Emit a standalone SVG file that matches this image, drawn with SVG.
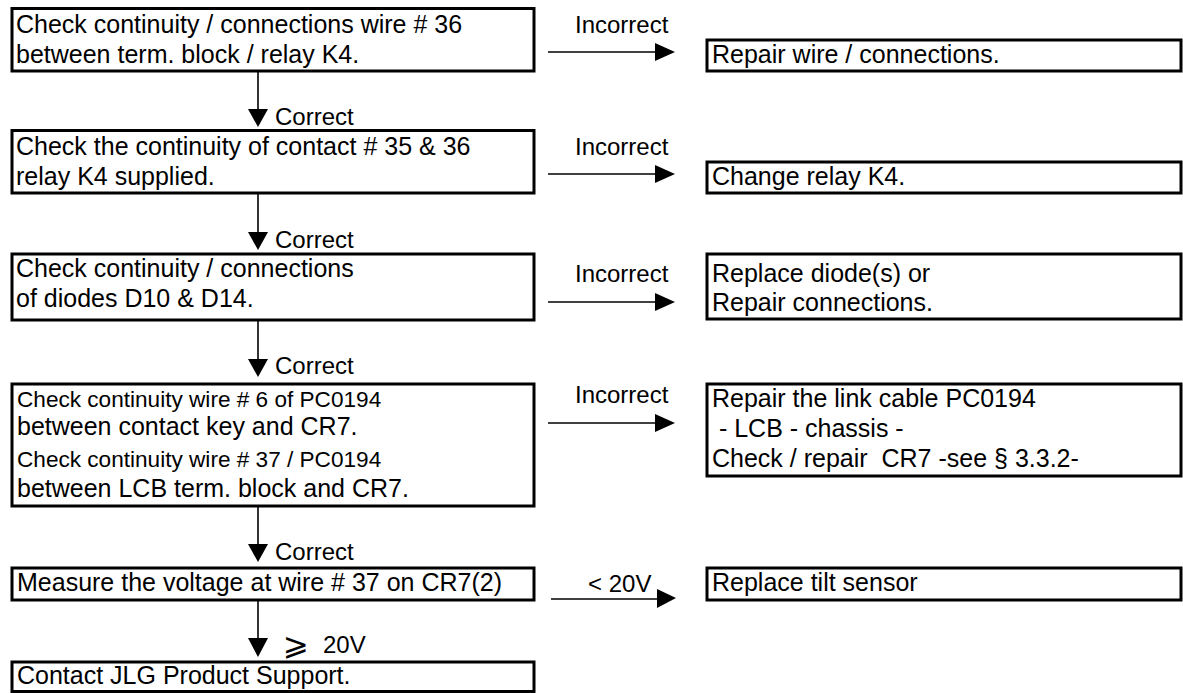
<svg xmlns="http://www.w3.org/2000/svg" width="1183" height="693" viewBox="0 0 1183 693">
  <defs>
    <style>
      .box { fill: #ffffff; stroke: #000000; stroke-width: 3; }
      .t { font-family: "Liberation Sans", Arial, sans-serif; font-size: 25px; fill: #000000; }
      .s { font-family: "Liberation Sans", Arial, sans-serif; font-size: 22.6px; fill: #000000; }
      .lbl { font-family: "Liberation Sans", Arial, sans-serif; font-size: 24px; fill: #000000; }
      .sym { font-family: "DejaVu Sans", sans-serif; font-size: 31px; fill: #000000; }
      .wire { stroke: #000000; stroke-width: 1.6; fill: none; }
      .head { fill: #000000; stroke: none; }
    </style>
  </defs>
  <rect width="1183" height="693" fill="#ffffff"/>

  <!-- connectors -->
  <g id="connectors">
    <!-- vertical "Correct" flow -->
    <line class="wire" x1="258" y1="71" x2="258" y2="112"/>
    <polygon class="head" points="248,109 268,109 258,127"/>
    <text class="lbl" x="275" y="125">Correct</text>

    <line class="wire" x1="258" y1="193" x2="258" y2="236"/>
    <polygon class="head" points="248,232 268,232 258,250"/>
    <text class="lbl" x="275" y="248">Correct</text>

    <line class="wire" x1="258" y1="320" x2="258" y2="362"/>
    <polygon class="head" points="248,359 268,359 258,377"/>
    <text class="lbl" x="275" y="374">Correct</text>

    <line class="wire" x1="258" y1="506" x2="258" y2="547"/>
    <polygon class="head" points="248,544 268,544 258,562"/>
    <text class="lbl" x="275" y="560">Correct</text>

    <line class="wire" x1="258" y1="600" x2="258" y2="641"/>
    <polygon class="head" points="248,638 268,638 258,657"/>
    <text class="sym" x="283" y="655">⩾</text>
    <text class="lbl" x="323" y="653">20V</text>

    <!-- horizontal "Incorrect" branches -->
    <text class="lbl" x="575" y="33">Incorrect</text>
    <line class="wire" x1="548" y1="52" x2="658" y2="52"/>
    <polygon class="head" points="655,43 655,61 675,52"/>

    <text class="lbl" x="575" y="155">Incorrect</text>
    <line class="wire" x1="548" y1="174" x2="658" y2="174"/>
    <polygon class="head" points="655,165 655,183 675,174"/>

    <text class="lbl" x="575" y="282">Incorrect</text>
    <line class="wire" x1="548" y1="302" x2="658" y2="302"/>
    <polygon class="head" points="655,293 655,311 675,302"/>

    <text class="lbl" x="575" y="403">Incorrect</text>
    <line class="wire" x1="548" y1="423" x2="658" y2="423"/>
    <polygon class="head" points="655,414 655,432 675,423"/>

    <text class="lbl" x="588" y="592">&lt; 20V</text>
    <line class="wire" x1="551" y1="599" x2="660" y2="599"/>
    <polygon class="head" points="657,589 657,608 676,598"/>
  </g>

  <!-- left column: checks -->
  <g id="check-wire36">
    <rect class="box" x="12" y="8.5" width="522" height="62.5"/>
    <text class="t" x="16" y="33">Check continuity / connections wire # 36</text>
    <text class="t" x="16" y="63">between term. block / relay K4.</text>
  </g>
  <g id="check-contact35-36">
    <rect class="box" x="12" y="130.5" width="522" height="62.5"/>
    <text class="t" x="16" y="155">Check the continuity of contact # 35 &amp; 36</text>
    <text class="t" x="16" y="185">relay K4 supplied.</text>
  </g>
  <g id="check-diodes">
    <rect class="box" x="12" y="254" width="522" height="66"/>
    <text class="t" x="16" y="277">Check continuity / connections</text>
    <text class="t" x="16" y="307">of diodes D10 &amp; D14.</text>
  </g>
  <g id="check-pc0194">
    <rect class="box" x="12" y="384" width="522" height="122"/>
    <text class="s" x="17" y="407">Check continuity wire # 6 of PC0194</text>
    <text class="t" x="17" y="435">between contact key and CR7.</text>
    <text class="s" x="17" y="467">Check continuity wire # 37 / PC0194</text>
    <text class="t" x="17" y="497">between LCB term. block and CR7.</text>
  </g>
  <g id="measure-voltage">
    <rect class="box" x="12" y="568" width="522" height="32"/>
    <text class="t" x="17" y="591">Measure the voltage at wire # 37 on CR7(2)</text>
  </g>
  <g id="contact-support">
    <rect class="box" x="12" y="662" width="522" height="29.5"/>
    <text class="t" x="17" y="684">Contact JLG Product Support.</text>
  </g>

  <!-- right column: remedies -->
  <g id="repair-wire">
    <rect class="box" x="707" y="40" width="474" height="31"/>
    <text class="t" x="712" y="63">Repair wire / connections.</text>
  </g>
  <g id="change-relay">
    <rect class="box" x="707" y="162" width="474" height="31"/>
    <text class="t" x="712" y="185">Change relay K4.</text>
  </g>
  <g id="replace-diodes">
    <rect class="box" x="707" y="254" width="474" height="65"/>
    <text class="t" x="712" y="282">Replace diode(s) or</text>
    <text class="t" x="712" y="311">Repair connections.</text>
  </g>
  <g id="repair-link-cable">
    <rect class="box" x="707" y="384" width="474" height="92"/>
    <text class="t" x="712" y="407">Repair the link cable PC0194</text>
    <text class="t" x="712" y="437" xml:space="preserve"> - LCB - chassis -</text>
    <text class="t" x="712" y="467" xml:space="preserve">Check / repair  CR7 -see § 3.3.2-</text>
  </g>
  <g id="replace-tilt-sensor">
    <rect class="box" x="707" y="568" width="474" height="32"/>
    <text class="t" x="712" y="591">Replace tilt sensor</text>
  </g>
</svg>
